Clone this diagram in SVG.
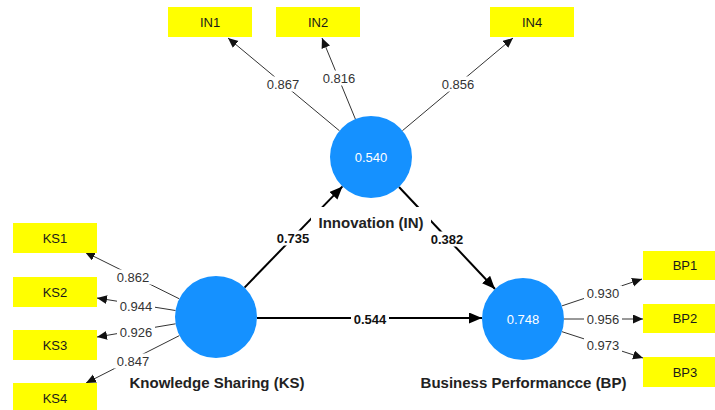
<svg xmlns="http://www.w3.org/2000/svg" width="715" height="410" viewBox="0 0 715 410">
  <defs>
    <marker id="arrThin" markerUnits="userSpaceOnUse" markerWidth="11" markerHeight="10" refX="10" refY="4.5" orient="auto">
      <path d="M0,0 L10,4.5 L0,9 z" fill="#111"/>
    </marker>
    <marker id="arrBold" markerUnits="userSpaceOnUse" markerWidth="14" markerHeight="12" refX="13" refY="5.5" orient="auto">
      <path d="M0,0 L13,5.5 L0,11 z" fill="#000"/>
    </marker>
  </defs>
  <style>
    text { font-family: "Liberation Sans", Arial, sans-serif; }
    .box { fill: #ffff00; }
    .boxlbl { font-size: 13px; fill: #1a1a1a; text-anchor: middle; }
    .lv { fill: #1591ff; }
    .lvval { font-size: 13px; fill: #ffffff; text-anchor: middle; }
    .lvname { font-size: 15px; font-weight: bold; fill: #222; text-anchor: middle; }
    .load { stroke: #333; stroke-width: 1; fill: none; marker-end: url(#arrThin); }
    .path { stroke: #000; stroke-width: 2; fill: none; marker-end: url(#arrBold); }
    .bg { fill: #ffffff; }
    .ld { font-size: 13px; fill: #333; text-anchor: middle; }
    .pc { font-size: 13px; font-weight: bold; fill: #111; text-anchor: middle; }
  </style>
  <rect width="715" height="410" fill="#ffffff"/>

  <!-- connectors: outer loadings and structural paths -->
  <g id="connectors">
    <line class="load" x1="339.5" y1="130.8" x2="228" y2="38"/>
    <line class="load" x1="355.4" y1="119.1" x2="322" y2="38"/>
    <line class="load" x1="402.4" y1="130.7" x2="513" y2="38"/>
    <line class="load" x1="179.3" y1="298.8" x2="85" y2="252"/>
    <line class="load" x1="175.5" y1="310.5" x2="97" y2="298"/>
    <line class="load" x1="175.6" y1="323.8" x2="97" y2="337"/>
    <line class="load" x1="179.4" y1="335.6" x2="86" y2="383"/>
    <line class="load" x1="561.9" y1="305.9" x2="642" y2="279"/>
    <line class="load" x1="564" y1="319" x2="643" y2="319"/>
    <line class="load" x1="562" y1="331.7" x2="643" y2="358"/>
    <line class="path" x1="244.5" y1="287.6" x2="342.5" y2="186.4"/>
    <line class="path" x1="399" y1="187" x2="495" y2="289"/>
    <line class="path" x1="257" y1="318" x2="482" y2="318"/>

    <!-- loading values -->
    <rect class="bg" x="264" y="76.5" width="38" height="15"/><text class="ld" x="283" y="88.6">0.867</text>
    <rect class="bg" x="320" y="70.5" width="38" height="15"/><text class="ld" x="339" y="82.6">0.816</text>
    <rect class="bg" x="439" y="76.5" width="38" height="15"/><text class="ld" x="458" y="88.6">0.856</text>
    <rect class="bg" x="114" y="269.5" width="38" height="15"/><text class="ld" x="133" y="281.6">0.862</text>
    <rect class="bg" x="117" y="299" width="38" height="15"/><text class="ld" x="136" y="311.1">0.944</text>
    <rect class="bg" x="117" y="324.5" width="38" height="15"/><text class="ld" x="136" y="336.6">0.926</text>
    <rect class="bg" x="114" y="353.5" width="38" height="15"/><text class="ld" x="133" y="365.6">0.847</text>
    <rect class="bg" x="584" y="285.5" width="38" height="15"/><text class="ld" x="603" y="297.6">0.930</text>
    <rect class="bg" x="584" y="311.5" width="38" height="15"/><text class="ld" x="603" y="323.6">0.956</text>
    <rect class="bg" x="584" y="337.5" width="38" height="15"/><text class="ld" x="603" y="349.6">0.973</text>

    <!-- path coefficients -->
    <rect class="bg" x="275" y="230.5" width="37" height="15"/><text class="pc" x="293" y="242.6">0.735</text>
    <rect class="bg" x="429" y="231.5" width="37" height="15"/><text class="pc" x="447" y="243.6">0.382</text>
    <rect class="bg" x="351" y="311.5" width="38" height="15"/><text class="pc" x="370" y="323.6">0.544</text>
  </g>

  <!-- indicators -->
  <g id="IN1"><rect class="box" x="168" y="7" width="84" height="30"/><text class="boxlbl" x="210" y="26.6">IN1</text></g>
  <g id="IN2"><rect class="box" x="276" y="7" width="84" height="30"/><text class="boxlbl" x="318" y="26.6">IN2</text></g>
  <g id="IN4"><rect class="box" x="490" y="7" width="84" height="30"/><text class="boxlbl" x="532" y="26.6">IN4</text></g>
  <g id="KS1"><rect class="box" x="13" y="223" width="84" height="30"/><text class="boxlbl" x="55" y="242.6">KS1</text></g>
  <g id="KS2"><rect class="box" x="13" y="277" width="84" height="30"/><text class="boxlbl" x="55" y="296.6">KS2</text></g>
  <g id="KS3"><rect class="box" x="13" y="330" width="84" height="30"/><text class="boxlbl" x="55" y="349.6">KS3</text></g>
  <g id="KS4"><rect class="box" x="13" y="383" width="84" height="30"/><text class="boxlbl" x="55" y="402.6">KS4</text></g>
  <g id="BP1"><rect class="box" x="643" y="251" width="84" height="29"/><text class="boxlbl" x="685" y="270.1">BP1</text></g>
  <g id="BP2"><rect class="box" x="643" y="304" width="84" height="29"/><text class="boxlbl" x="685" y="323.1">BP2</text></g>
  <g id="BP3"><rect class="box" x="643" y="357" width="84" height="30"/><text class="boxlbl" x="685" y="376.6">BP3</text></g>

  <!-- latent variables -->
  <g id="IN">
    <circle class="lv" cx="371" cy="157" r="41"/>
    <text class="lvval" x="371" y="161.6">0.540</text>
    <rect class="bg" x="311" y="207" width="120" height="25"/>
    <text class="lvname" x="371" y="227.5">Innovation (IN)</text>
  </g>
  <g id="KS">
    <circle class="lv" cx="216" cy="317" r="41"/>
    <text class="lvname" x="217" y="388">Knowledge Sharing (KS)</text>
  </g>
  <g id="BP">
    <circle class="lv" cx="523" cy="319" r="41"/>
    <text class="lvval" x="523" y="323.6">0.748</text>
    <text class="lvname" x="523.5" y="388">Business Performancce (BP)</text>
  </g>
</svg>
